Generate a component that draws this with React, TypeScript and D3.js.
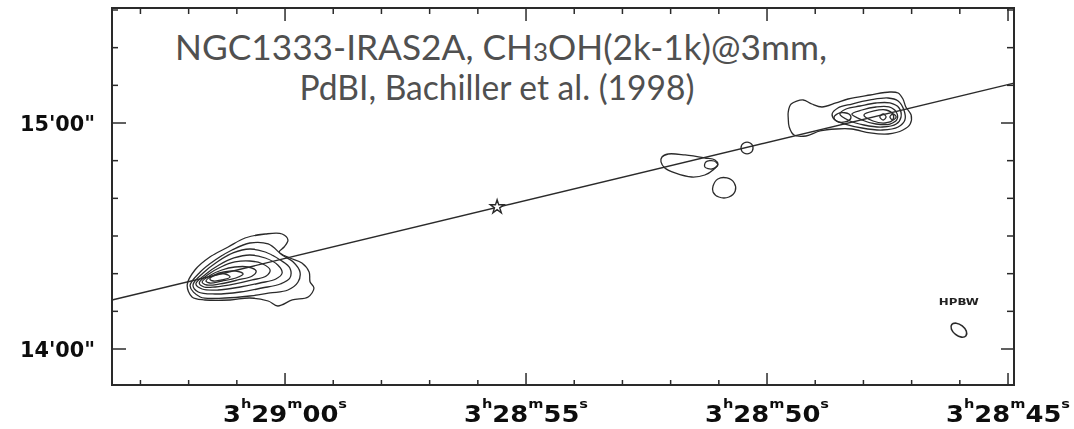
import React from "react";
import * as d3 from "d3";

const W = 1074;
const H = 429;
const frame = { left: 112, right: 1014, top: 8, bottom: 385 };

// RA in seconds after 3h28m (60 = 3h29m00s); Dec in arcsec after +31°14'00"
const raDomain = [63.59, 44.876];
const decDomain = [-9.56, 90.53];

const raMajorTicks = [60, 55, 50, 45];
const raMajorLabels = [
  ["3", "h", "29", "m", "00", "s"],
  ["3", "h", "28", "m", "55", "s"],
  ["3", "h", "28", "m", "50", "s"],
  ["3", "h", "28", "m", "45", "s"],
];
const raMinorTicks = [63, 62, 61, 59, 58, 57, 56, 54, 53, 52, 51, 49, 48, 47, 46];
const decMajorTicks = [0, 60];
const decMajorLabels = ["14'00\"", "15'00\""];
const decMinorTicks = [10, 20, 30, 40, 50, 70, 80, 90];

const titleLine1 = ["NGC1333-IRAS2A, CH", "3", "OH(2k-1k)@3mm,"];
const titleLine2 = "PdBI, Bachiller et al. (1998)";

// outflow axis (RA s, Dec ")
const outflowAxis = [
  [63.59, 13.0],
  [44.876, 70.6],
];
const sourceStar = [55.6, 37.7];

// beam: centre, semi-axes (arcsec), position angle (deg)
const beamCentre = [46.02, 5.0];
const beamAxes = [2.4, 1.45];
const beamAngle = 38;
const beamLabel = "HPBW";
const beamLabelDec = 11.6;

// south-east lobe contours (RA s, Dec ")
const leftContours = [
  [[62.03, 16.99], [61.87, 20.97], [61.56, 24.42], [61.18, 27.08], [60.83, 29.47], [60.41, 30.53], [60.06, 30.53], [59.94, 28.94], [60.02, 27.08], [60.12, 25.75], [59.9, 24.16], [59.65, 22.83], [59.5, 20.44], [59.48, 17.79], [59.4, 16.19], [59.52, 13.81], [59.85, 13.01], [60.15, 11.42], [60.35, 12.74], [60.73, 13.54], [61.14, 13.01], [61.66, 13.01], [61.93, 13.81]],
  [[61.97, 16.73], [61.76, 20.44], [61.45, 23.63], [61.1, 26.28], [60.73, 28.14], [60.35, 27.88], [60.06, 24.96], [59.83, 23.1], [59.69, 20.44], [59.73, 17.79], [59.94, 15.66], [60.31, 14.87], [60.73, 14.07], [61.24, 13.54], [61.76, 13.81]],
  [[61.91, 16.99], [61.7, 20.18], [61.41, 23.1], [61.08, 25.49], [60.73, 26.55], [60.41, 25.75], [60.1, 23.63], [59.9, 21.5], [59.9, 18.85], [60.1, 17.26], [60.48, 16.19], [60.93, 15.13], [61.45, 14.6], [61.8, 15.13]],
  [[61.85, 17.26], [61.64, 19.91], [61.37, 22.3], [61.06, 24.16], [60.73, 24.96], [60.41, 24.16], [60.15, 22.3], [60.06, 20.18], [60.19, 18.58], [60.52, 17.52], [60.93, 16.46], [61.39, 15.66], [61.72, 15.93]],
  [[61.78, 17.52], [61.58, 19.91], [61.33, 21.77], [61.04, 23.1], [60.73, 23.36], [60.46, 22.57], [60.31, 20.97], [60.39, 19.38], [60.68, 18.32], [61.04, 17.26], [61.45, 16.46], [61.68, 16.46]],
  [[61.72, 17.79], [61.54, 19.65], [61.31, 20.97], [61.04, 21.77], [60.77, 21.77], [60.6, 20.71], [60.68, 19.38], [60.98, 18.32], [61.35, 17.26], [61.62, 16.99]],
  [[61.64, 18.05], [61.47, 19.65], [61.27, 20.44], [61.02, 20.71], [60.87, 19.91], [61.02, 18.85], [61.31, 18.05], [61.56, 17.52]],
  [[61.56, 18.58], [61.43, 19.65], [61.24, 19.91], [61.14, 19.12], [61.31, 18.32], [61.49, 18.05]],
];

// north-west lobe contours
const rightContours = [
  [[49.56, 62.92], [49.5, 65.04], [49.25, 66.11], [49.07, 65.04], [48.86, 64.25], [48.57, 65.31], [48.32, 66.37], [47.86, 67.43], [47.45, 68.23], [47.28, 67.96], [47.18, 66.37], [47.12, 64.25], [47.01, 62.12], [47.03, 59.73], [47.18, 58.14], [47.49, 57.08], [47.86, 57.35], [48.24, 58.41], [48.57, 58.41], [48.9, 57.88], [49.19, 56.55], [49.44, 56.81], [49.54, 58.94], [49.56, 61.33]],
  [[48.65, 62.39], [48.53, 63.98], [48.24, 65.04], [47.86, 66.11], [47.49, 66.64], [47.28, 65.84], [47.16, 63.45], [47.14, 60.8], [47.28, 58.94], [47.61, 58.14], [48.03, 58.67], [48.38, 59.73], [48.59, 60.8]],
  [[48.49, 62.39], [48.36, 63.72], [48.07, 64.51], [47.74, 65.31], [47.45, 65.31], [47.26, 63.98], [47.22, 61.59], [47.32, 59.73], [47.61, 58.94], [47.99, 59.47], [48.28, 60.53]],
  [[48.24, 62.39], [48.03, 63.45], [47.74, 64.25], [47.47, 64.25], [47.32, 62.92], [47.3, 61.06], [47.45, 59.73], [47.74, 59.73], [48.03, 60.8]],
  [[47.99, 62.12], [47.78, 63.19], [47.53, 63.45], [47.39, 62.39], [47.39, 60.8], [47.55, 60.0], [47.8, 60.53]],
  [[48.61, 61.59], [48.49, 62.66], [48.3, 62.39], [48.26, 61.33], [48.38, 60.27], [48.56, 60.53]],
  [[47.66, 61.59], [47.59, 62.39], [47.53, 61.59], [47.59, 60.8]],
  [[47.45, 61.59], [47.39, 62.39], [47.32, 61.59], [47.39, 60.8]],
];

// small knots between the lobes
const middleContours = [
  [[52.18, 50.97], [52.05, 51.77], [51.7, 51.51], [51.29, 50.71], [51.08, 50.18], [51.02, 49.11], [51.12, 47.52], [51.29, 46.19], [51.56, 45.66], [51.91, 46.73], [52.12, 48.05], [52.2, 49.65]],
  [[51.27, 49.65], [51.1, 49.91], [51.02, 48.85], [51.14, 47.79], [51.29, 48.32]],
  [[51.12, 43.27], [51.02, 45.13], [50.83, 45.4], [50.68, 44.07], [50.66, 41.95], [50.79, 40.35], [51.0, 40.35], [51.12, 41.68]],
  [[50.54, 53.36], [50.48, 54.69], [50.35, 54.69], [50.29, 53.36], [50.35, 52.03], [50.48, 52.03]],
];

const x = d3.scaleLinear().domain(raDomain).range([frame.left, frame.right]);
const y = d3.scaleLinear().domain(decDomain).range([frame.bottom, frame.top]);

const contourPath = d3
  .line<number[]>()
  .x((d) => x(d[0]))
  .y((d) => y(d[1]))
  .curve(d3.curveCatmullRomClosed.alpha(0.5));
const straightPath = d3
  .line<number[]>()
  .x((d) => x(d[0]))
  .y((d) => y(d[1]));

const ink = "#2b2b2b";
const axisFont = "'DejaVu Sans', 'Liberation Sans', sans-serif";

export default function App() {
  const pxPerArcsec = Math.abs(y(1) - y(0));
  const allContours = [...leftContours, ...rightContours, ...middleContours];
  const starPath = d3.symbol().type(d3.symbolStar).size(58)();
  return (
    <svg
      width={W}
      height={H}
      style={{ position: "absolute", left: 0, top: 0, background: "#fff" }}
    >
      <defs>
        <filter id="soft" x="-5%" y="-5%" width="110%" height="110%">
          <feGaussianBlur stdDeviation="0.5" />
        </filter>
      </defs>
      <rect width={W} height={H} fill="#fff" />
      <g filter="url(#soft)">
        {/* frame */}
        <rect
          x={frame.left}
          y={frame.top}
          width={frame.right - frame.left}
          height={frame.bottom - frame.top}
          fill="none"
          stroke={ink}
          strokeWidth={2}
        />
        {/* x ticks */}
        {raMinorTicks.map((t) => (
          <g key={"xm" + t}>
            <line x1={x(t)} x2={x(t)} y1={frame.bottom} y2={frame.bottom - 5} stroke={ink} strokeWidth={1.5} />
            <line x1={x(t)} x2={x(t)} y1={frame.top} y2={frame.top + 6} stroke={ink} strokeWidth={1.5} />
          </g>
        ))}
        {raMajorTicks.map((t) => (
          <g key={"xM" + t}>
            <line x1={x(t)} x2={x(t)} y1={frame.bottom} y2={frame.bottom - 12} stroke={ink} strokeWidth={1.5} />
            <line x1={x(t)} x2={x(t)} y1={frame.top} y2={frame.top + 13} stroke={ink} strokeWidth={1.5} />
          </g>
        ))}
        {/* y ticks */}
        {decMinorTicks.map((t) => (
          <g key={"ym" + t}>
            <line x1={frame.left} x2={frame.left + 6} y1={y(t)} y2={y(t)} stroke={ink} strokeWidth={1.5} />
            <line x1={frame.right} x2={frame.right - 7} y1={y(t)} y2={y(t)} stroke={ink} strokeWidth={1.5} />
          </g>
        ))}
        {decMajorTicks.map((t) => (
          <g key={"yM" + t}>
            <line x1={frame.left} x2={frame.left + 14} y1={y(t)} y2={y(t)} stroke={ink} strokeWidth={1.5} />
            <line x1={frame.right} x2={frame.right - 13} y1={y(t)} y2={y(t)} stroke={ink} strokeWidth={1.5} />
          </g>
        ))}
        {/* y labels */}
        {decMajorTicks.map((t, i) => (
          <text
            key={"yl" + t}
            x={95}
            y={y(t) + 8}
            textAnchor="end"
            fontFamily={axisFont}
            fontWeight="bold"
            fontSize={22}
            fill="#111"
            textLength={75}
            lengthAdjust="spacingAndGlyphs"
          >
            {decMajorLabels[i]}
          </text>
        ))}
        {/* x labels */}
        {raMajorTicks.map((t, i) => {
          const p = raMajorLabels[i];
          return (
            <text
              key={"xl" + t}
              x={x(t) - 62}
              y={422}
              fontFamily={axisFont}
              fontWeight="bold"
              fontSize={23}
              fill="#111"
              textLength={124}
              lengthAdjust="spacingAndGlyphs"
            >
              <tspan>{p[0]}</tspan>
              <tspan fontSize={13} dy={-14}>{p[1]}</tspan>
              <tspan dy={14}>{p[2]}</tspan>
              <tspan fontSize={13} dy={-14}>{p[3]}</tspan>
              <tspan dy={14}>{p[4]}</tspan>
              <tspan fontSize={13} dy={-14}>{p[5]}</tspan>
            </text>
          );
        })}
        {/* outflow axis */}
        <path d={straightPath(outflowAxis) || ""} fill="none" stroke={ink} strokeWidth={1.4} />
        {/* contours */}
        {allContours.map((c, i) => (
          <path key={"c" + i} d={contourPath(c) || ""} fill="none" stroke={ink} strokeWidth={1.3} />
        ))}
        {/* source */}
        <path
          d={starPath || ""}
          transform={`translate(${x(sourceStar[0])},${y(sourceStar[1])})`}
          fill="#fff"
          stroke={ink}
          strokeWidth={1.4}
        />
        {/* beam */}
        <text
          x={x(beamCentre[0])}
          y={y(beamLabelDec)}
          textAnchor="middle"
          fontFamily={axisFont}
          fontWeight="bold"
          fontSize={9}
          fill="#222"
          textLength={40}
          lengthAdjust="spacingAndGlyphs"
        >
          {beamLabel}
        </text>
        <ellipse
          cx={x(beamCentre[0])}
          cy={y(beamCentre[1])}
          rx={beamAxes[0] * pxPerArcsec}
          ry={beamAxes[1] * pxPerArcsec}
          transform={`rotate(${beamAngle} ${x(beamCentre[0])} ${y(beamCentre[1])})`}
          fill="none"
          stroke={ink}
          strokeWidth={1.6}
        />
      </g>
      {/* title */}
      <text
        x={501}
        y={60}
        textAnchor="middle"
        fontFamily="Lato, 'Open Sans', sans-serif"
        fontSize={34}
        fill="#505050"
        textLength={652}
        lengthAdjust="spacingAndGlyphs"
      >
        <tspan>{titleLine1[0]}</tspan>
        <tspan fontSize={25} dy={1}>{titleLine1[1]}</tspan>
        <tspan dy={-1}>{titleLine1[2]}</tspan>
      </text>
      <text
        x={497}
        y={100}
        textAnchor="middle"
        fontFamily="Lato, 'Open Sans', sans-serif"
        fontSize={34}
        fill="#505050"
        textLength={395}
        lengthAdjust="spacingAndGlyphs"
      >
        {titleLine2}
      </text>
    </svg>
  );
}
